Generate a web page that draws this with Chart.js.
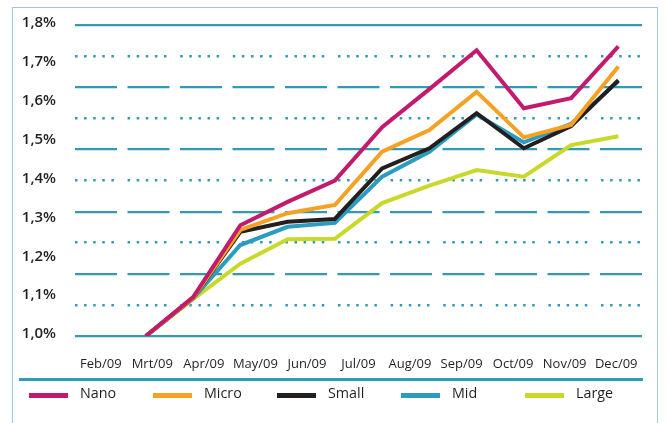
<!DOCTYPE html>
<html>
<head>
<meta charset="utf-8">
<script src="https://cdn.jsdelivr.net/npm/chart.js@4.4.1/dist/chart.umd.min.js"></script>
<style>
  body { margin: 0; background: #fff; }
  #wrap { position: relative; width: 668px; height: 423px; overflow: hidden; }
  #chart { position: absolute; left: 0; top: 0; }
  #frame { position: absolute; left: 12px; top: 7px; width: 646px; height: 440px;
           border: 1.5px solid #a6c6db; box-sizing: border-box; }
  #sep { position: absolute; left: 19px; top: 378px; width: 624px; height: 3px; background: #2f9bbb; }
  #legend { position: absolute; left: 29px; top: 391px; display: flex;
            font: 14.3px 'Open Sans'; color: #231f20; }
  .item { width: 124px; display: flex; align-items: flex-start; }
  .sw { width: 39px; height: 5px; margin-top: 2px; margin-right: 12px; }
  .txt { line-height: 20px; margin-top: -8px; }
</style>
</head>
<body>
<div id="wrap">
  <div id="frame"></div>
  <canvas id="chart" width="668" height="423"></canvas>
  <div id="sep"></div>
  <div id="legend"></div>
</div>
<script>
// month labels under the chart
const months = ['Feb/09', 'Mrt/09', 'Apr/09', 'May/09', 'Jun/09', 'Jul/09',
                'Aug/09', 'Sep/09', 'Oct/09', 'Nov/09', 'Dec/09'];

// series values in %, first slot has no data
const nano  = [null, 1.00, 1.100, 1.285, 1.345, 1.400, 1.537, 1.635, 1.735, 1.586, 1.612, 1.745];
const micro = [null, 1.00, 1.098, 1.273, 1.316, 1.337, 1.474, 1.530, 1.628, 1.511, 1.543, 1.693];
const small = [null, 1.00, 1.098, 1.268, 1.294, 1.301, 1.431, 1.483, 1.573, 1.483, 1.540, 1.658];
const mid   = [null, 1.00, 1.097, 1.234, 1.281, 1.291, 1.410, 1.474, 1.570, 1.498, 1.546, 1.655];
const large = [null, 1.00, 1.095, 1.186, 1.249, 1.250, 1.342, 1.387, 1.427, 1.410, 1.491, 1.514];

const seriesNames  = ['Nano', 'Micro', 'Small', 'Mid', 'Large'];
const seriesColors = ['#c21a6c', '#f4a124', '#231f1e', '#2b9cc0', '#c8d92b'];
const seriesData   = [nano, micro, small, mid, large];

// the data points sit on their own slots (12 of them), not on the month labels
const slots = nano.map((v, i) => String(i));

const gridColor = '#3399b5';

const datasets = seriesNames.map((name, i) => ({
  label: name,
  data: seriesData[i],
  borderColor: seriesColors[i],
  backgroundColor: seriesColors[i],
  borderWidth: 4,
  pointRadius: 0,
  tension: 0,
  fill: false,
  borderJoinStyle: 'miter',
  xAxisID: 'xd',
  yAxisID: 'y'
}));

new Chart(document.getElementById('chart'), {
  type: 'line',
  data: { labels: months, datasets: datasets },
  options: {
    responsive: false,
    animation: false,
    devicePixelRatio: 1,
    layout: { padding: { top: 25, right: 26, bottom: 43, left: 0 } },
    plugins: { legend: { display: false }, tooltip: { enabled: false } },
    scales: {
      x: {
        type: 'category',
        position: 'bottom',
        offset: true,
        grid: { display: false },
        border: { display: false },
        ticks: {
          autoSkip: false, maxRotation: 0, padding: 12, color: '#231f20',
          font: { family: "'Liberation Sans Narrow', 'Open Sans'", size: 13 }
        },
        afterFit: s => { s.height = 44; }
      },
      xd: {
        type: 'category',
        labels: slots,
        offset: true,
        display: false
      },
      y: {
        position: 'left',
        min: 1.0,
        max: 1.8,
        grid: { display: false },
        border: { display: false },
        ticks: {
          stepSize: 0.1, padding: 11, labelOffset: -2, color: '#231f20',
          font: { family: 'Open Sans', size: 15, weight: '600' },
          callback: v => v.toFixed(1).replace('.', ',') + '%'
        },
        afterFit: s => { s.width = 75; }
      },
      y2: {
        position: 'right',
        min: 0,
        max: 10,
        ticks: { stepSize: 1, display: false },
        grid: {
          drawTicks: false,
          color: gridColor,
          lineWidth: c => (c.tick.value % 2 === 1 ? 2.6 : 2.2)
        },
        border: {
          display: false,
          dash: c => {
            const v = c.tick.value;
            if (v === 0 || v === 10) return [];
            if (v % 2 === 1) return [2.5, 6.6, 2.5, 6.6, 2.5, 6.6, 2.5, 6.6, 2.5, 13.7];
            return [42, 10.5];
          }
        },
        afterFit: s => { s.width = 0; }
      }
    }
  }
});

// legend row
const legend = document.getElementById('legend');
seriesNames.forEach((name, i) => {
  const item = document.createElement('div');
  item.className = 'item';
  const sw = document.createElement('div');
  sw.className = 'sw';
  sw.style.background = seriesColors[i];
  const txt = document.createElement('div');
  txt.className = 'txt';
  txt.textContent = name;
  item.appendChild(sw);
  item.appendChild(txt);
  legend.appendChild(item);
});
</script>
</body>
</html>
